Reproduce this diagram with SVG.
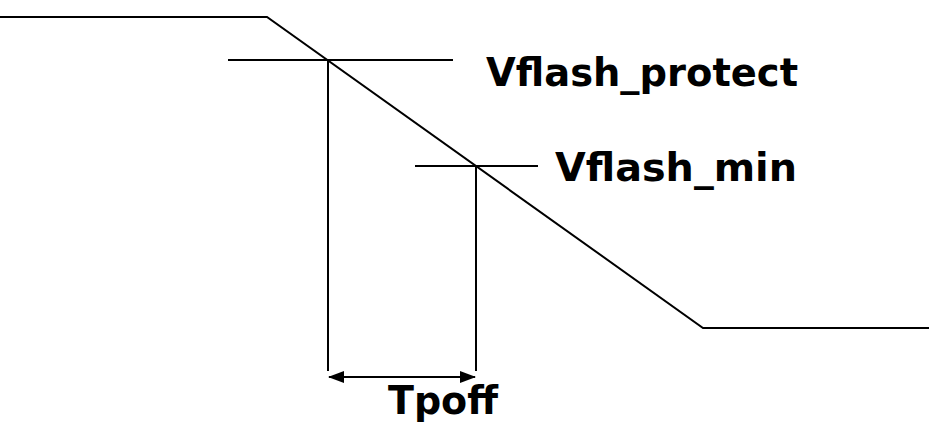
<svg xmlns="http://www.w3.org/2000/svg" width="929" height="427" viewBox="0 0 929 427">
<style>
.ln{stroke:#000;stroke-width:2;fill:none}
.lbl{font-family:"DejaVu Sans",Verdana,sans-serif;font-weight:bold;font-size:39px;fill:#000}
</style>
<defs>
<marker id="ah" markerWidth="16" markerHeight="12" refX="15" refY="6" orient="auto-start-reverse" markerUnits="userSpaceOnUse">
<path d="M0,0 L16,6 L0,12 Z" fill="#000"/>
</marker>
</defs>
<rect width="929" height="427" fill="#fff"/>
<g id="connectors">
<polyline class="ln" points="0,17 267,17 703,328 929,328"/>
<line class="ln" x1="228" y1="60" x2="453" y2="60"/>
<line class="ln" x1="328" y1="60" x2="328" y2="371"/>
<line class="ln" x1="415" y1="166" x2="538" y2="166"/>
<line class="ln" x1="476" y1="166" x2="476" y2="371"/>
<line class="ln" x1="329" y1="377" x2="475" y2="377" marker-start="url(#ah)" marker-end="url(#ah)"/>
</g>
<g id="label-protect"><text class="lbl" x="486" y="86" textLength="312" lengthAdjust="spacingAndGlyphs">Vflash_protect</text></g>
<g id="label-min"><text class="lbl" x="555" y="181" textLength="242" lengthAdjust="spacingAndGlyphs">Vflash_min</text></g>
<g id="label-tpoff"><text class="lbl" x="388" y="414" textLength="110" lengthAdjust="spacingAndGlyphs">Tpoff</text></g>
</svg>
